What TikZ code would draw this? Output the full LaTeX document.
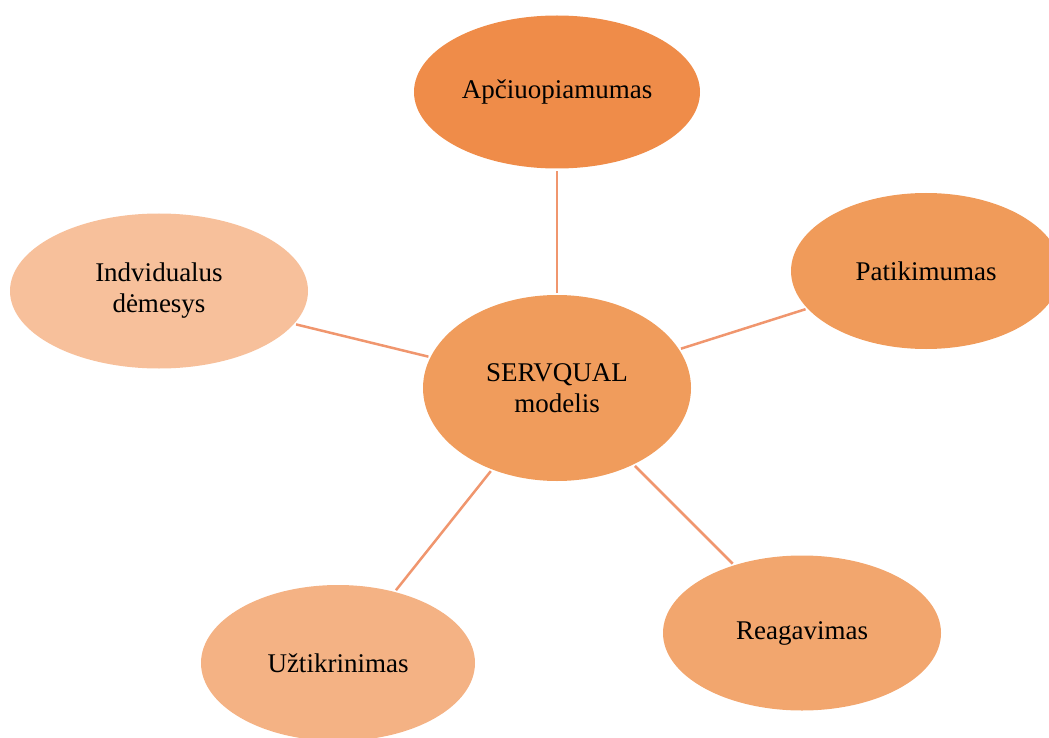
\documentclass[tikz,border=0pt]{standalone}
\usepackage{fontspec}
\setmainfont{Liberation Serif}
\usetikzlibrary{shapes.geometric}
\definecolor{cTop}{RGB}{239,140,73}
\definecolor{cRight}{RGB}{240,155,90}
\definecolor{cCenter}{RGB}{240,156,92}
\definecolor{cLR}{RGB}{242,166,110}
\definecolor{cLL}{RGB}{244,178,132}
\definecolor{cLeft}{RGB}{247,192,155}
\definecolor{cLine}{RGB}{240,150,110}
\tikzset{
  bubble/.style={ellipse, inner sep=0pt, align=center, text=black,
    font=\fontsize{27}{31}\selectfont},
  link/.style={draw=cLine, line width=2.5pt, shorten <=2pt, shorten >=2pt}
}
\begin{document}
\begin{tikzpicture}[x=1pt,y=-1pt]
\useasboundingbox (0,0) rectangle (1049,738);
\clip (0,0) rectangle (1049,738);
\node[bubble, fill=cCenter, minimum width=268pt, minimum height=186pt] (c) at (557,388) {SERVQUAL\\modelis};
\node[bubble, fill=cTop, minimum width=286pt, minimum height=153pt] (t) at (557,92) {Apčiuopiamumas};
\node[bubble, fill=cRight, minimum width=270pt, minimum height=156pt] (r) at (926,271) {Patikimumas};
\node[bubble, fill=cLR, minimum width=278pt, minimum height=155pt] (lr) at (802,633) {Reagavimas};
\node[bubble, fill=cLL, minimum width=274pt, minimum height=156pt] (ll) at (338,663) {Užtikrinimas};
\node[bubble, fill=cLeft, minimum width=298pt, minimum height=155pt] (l) at (159,291) {Indvidualus\\dėmesys};
\draw[link] (c) -- (t);
\draw[link] (c) -- (r);
\draw[link] (c) -- (lr);
\draw[link] (c) -- (ll);
\draw[link] (c) -- (l);
\end{tikzpicture}
\end{document}
